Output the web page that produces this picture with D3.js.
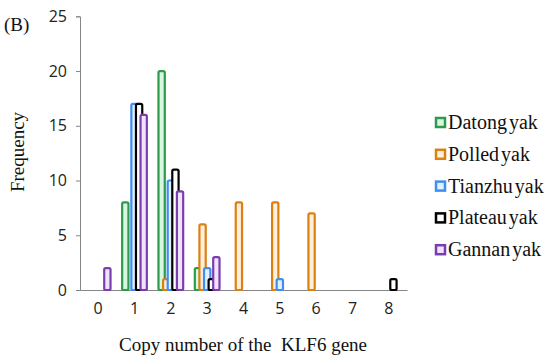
<!DOCTYPE html>
<html><head><meta charset="utf-8">
<script src="https://cdn.jsdelivr.net/npm/d3@7"></script>
<style>body{margin:0;background:#fff}svg{display:block}</style>
</head><body>
<svg id="c" width="550" height="359"></svg>
<script>
const categories = ["0","1","2","3","4","5","6","7","8"];
const seriesNames = ["Datong yak","Polled yak","Tianzhu yak","Plateau yak","Gannan yak"];
const datong  = [0, 8, 20, 2, 0, 0, 0, 0, 0];
const polled  = [0, 0, 1, 6, 8, 8, 7, 0, 0];
const tianzhu = [0, 17, 10, 2, 0, 1, 0, 0, 0];
const plateau = [0, 17, 11, 1, 0, 0, 0, 0, 1];
const gannan  = [2, 16, 9, 3, 0, 0, 0, 0, 0];
const yTicks = [0, 5, 10, 15, 20, 25];
const strokeColors = ["#2f9a4c","#de7f12","#3f8ff2","#000000","#7a3db0"];
const fillColors = ["#d8f7e0","#fdf0dc","#e3f0ff","#ffffff","#f0e4fa"];
const seriesData = [datong, polled, tianzhu, plateau, gannan];

const serif = "'Liberation Serif', 'Times New Roman', serif";
const sans = "'Open Sans', 'Liberation Sans', sans-serif";

const svg = d3.select("#c");
const x = d3.scaleBand().domain(categories).range([80, 407]).padding(0);
const y = d3.scaleLinear().domain([0, 25]).range([290, 16.3]);
const step = 4.6, bw = 6.3;

// y axis
const ya = svg.append("g").attr("transform","translate(80,0)")
  .call(d3.axisLeft(y).tickValues(yTicks).tickSize(4).tickPadding(9));
ya.attr("font-family", null).attr("font-size", null);
ya.select(".domain").attr("stroke","#868686").attr("stroke-width",1);
ya.selectAll(".tick line").attr("stroke","#868686");
ya.selectAll("text").style("font-family", sans).style("font-size","16px").attr("fill","#222");

// x axis
const xa = svg.append("g").attr("transform","translate(0,290)")
  .call(d3.axisBottom(x).tickSize(0).tickPadding(13));
xa.attr("font-family", null).attr("font-size", null);
xa.select(".domain").attr("stroke","#868686").attr("stroke-width",1);
xa.selectAll("text").style("font-family", sans).style("font-size","16px").attr("fill","#222");

// bars
seriesData.forEach((vals, i) => {
  svg.append("g").selectAll("rect")
    .data(vals.map((v, k) => ({v, c: categories[k]})).filter(d => d.v > 0))
    .join("rect")
    .attr("x", d => x(d.c) + x.bandwidth()/2 + (i-2)*step - bw/2)
    .attr("y", d => y(d.v))
    .attr("width", bw)
    .attr("height", d => y(0) - y(d.v))
    .attr("rx", 1.5)
    .attr("fill", fillColors[i])
    .attr("stroke", strokeColors[i])
    .attr("stroke-width", 2.2);
});

// legend
const lg = svg.append("g");
seriesNames.forEach((n, i) => {
  const yy = 123 + i*31.8;
  lg.append("rect").attr("x", 436).attr("y", yy-5).attr("width", 9).attr("height", 9)
    .attr("fill", fillColors[i]).attr("stroke", strokeColors[i]).attr("stroke-width", 2.5);
  lg.append("text").attr("x", 448).attr("y", yy+6).text(n)
    .style("font-family", serif).style("font-size","20px").style("word-spacing","-3px").attr("fill","#111");
});

// titles
svg.append("text").attr("x", 243).attr("y", 351).attr("text-anchor","middle")
  .style("font-family", serif).style("font-size","19px").attr("fill","#111")
  .style("white-space","pre").text("Copy number of the  KLF6 gene");
svg.append("text").attr("transform","translate(24,152) rotate(-90)").attr("text-anchor","middle")
  .style("font-family", serif).style("font-size","19px").attr("fill","#111")
  .text("Frequency");
svg.append("text").attr("x", 4).attr("y", 31)
  .style("font-family", serif).style("font-size","19px").attr("fill","#111")
  .text("(B)");
</script>
</body></html>
